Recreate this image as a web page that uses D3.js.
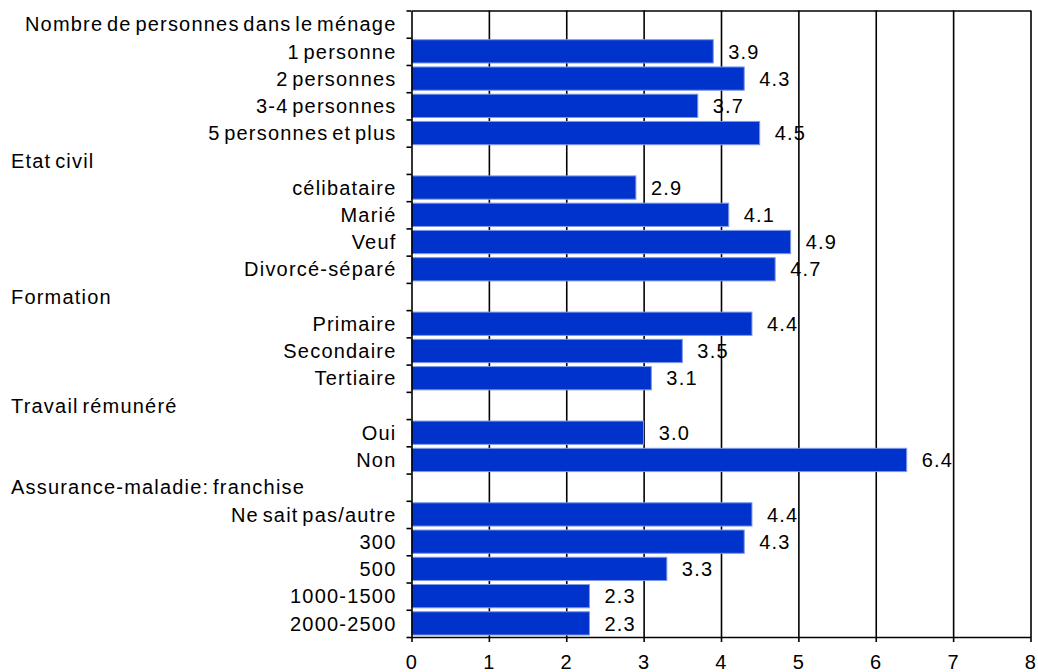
<!DOCTYPE html>
<html lang="fr">

<head>
  <meta charset="utf-8">
  <title>Franchise chart</title>
  <style>
    body {
      margin: 0;
      background: #ffffff;
    }

    #chart text {
      font-family: "Liberation Sans", Arial, sans-serif;
      font-size: 20px;
      letter-spacing: 1.2px;
      word-spacing: -3px;
      fill: #000000;
    }

    #chart .bar {
      fill: #0033cc;
      stroke: #7f99e6;
      stroke-width: 1;
    }

    #chart .axis path,
    #chart .axis line,
    #chart .grid path,
    #chart .grid line {
      stroke: #000000;
      stroke-width: 1.6;
    }
  </style>
</head>

<body>
  <div id="chart"></div>
</body>
<script src="https://d3js.org/d3.v7.min.js"></script>

<script>
  var groups = ["Nombre de personnes dans le ménage", "Etat civil", "Formation", "Travail rémunéré",
    "Assurance-maladie: franchise"];
  var categories = [
    ["1 personne", "2 personnes", "3-4 personnes", "5 personnes et plus"],
    ["célibataire", "Marié", "Veuf", "Divorcé-séparé"],
    ["Primaire", "Secondaire", "Tertiaire"],
    ["Oui", "Non"],
    ["Ne sait pas/autre", "300", "500", "1000-1500", "2000-2500"]
  ];
  var values = [
    [3.9, 4.3, 3.7, 4.5],
    [2.9, 4.1, 4.9, 4.7],
    [4.4, 3.5, 3.1],
    [3.0, 6.4],
    [4.4, 4.3, 3.3, 2.3, 2.3]
  ];
  var xTicks = [0, 1, 2, 3, 4, 5, 6, 7, 8];

  // one row per header, one row per bar
  var rows = [];
  groups.forEach(function (g, gi) {
    rows.push({ label: g, header: true, first: gi === 0 });
    categories[gi].forEach(function (c, ci) {
      rows.push({ label: c, value: values[gi][ci] });
    });
  });
  rows.forEach(function (d, i) { d.id = i; });

  var margin = { top: 10.5, left: 411.5, right: 7.5, bottom: 35 },
    W = 1038, H = 672,
    width = W - margin.left - margin.right,
    height = H - margin.top - margin.bottom;

  var svg = d3.select("#chart")
    .append("svg")
    .attr("width", W)
    .attr("height", H)
    .append("g")
    .attr("transform", "translate(" + margin.left + "," + margin.top + ")");

  var x = d3.scaleLinear()
    .domain([0, 8])
    .range([0, width]);

  var y = d3.scaleBand()
    .domain(rows.map(function (d) { return d.id; }))
    .range([0, height])
    .paddingInner(0.145)
    .paddingOuter(0.0725);

  var rowEdge = d3.scaleLinear()
    .domain([0, rows.length])
    .range([0, height]);

  // vertical grid + top frame
  svg.append("g")
    .attr("class", "grid")
    .call(d3.axisTop(x).tickValues(xTicks.slice(1)).tickSize(-height).tickSizeOuter(0).tickFormat(""));

  var bars = rows.filter(function (d) { return !d.header; });

  svg.selectAll(".bar")
    .data(bars)
    .enter()
    .append("rect")
    .attr("class", "bar")
    .attr("x", 0)
    .attr("y", function (d) { return y(d.id); })
    .attr("width", function (d) { return x(d.value); })
    .attr("height", y.bandwidth());

  svg.selectAll(".val")
    .data(bars)
    .enter()
    .append("text")
    .attr("class", "val")
    .attr("x", function (d) { return x(d.value) + 15; })
    .attr("y", function (d) { return y(d.id) + y.bandwidth() / 2; })
    .attr("dy", "0.36em")
    .text(function (d) { return d.value.toFixed(1); });

  // left axis with ticks between rows
  svg.append("g")
    .attr("class", "axis")
    .call(d3.axisLeft(rowEdge).tickValues(d3.range(rows.length + 1)).tickSize(5).tickSizeOuter(0).tickFormat(""));

  svg.append("g")
    .attr("class", "axis")
    .attr("transform", "translate(0," + height + ")")
    .call(d3.axisBottom(x).tickValues(xTicks).tickSize(5).tickPadding(12.5).tickSizeOuter(0))
    .call(function (g) { g.selectAll("text").attr("font-size", null).attr("font-family", null); });

  svg.selectAll(".rowlab")
    .data(rows)
    .enter()
    .append("text")
    .attr("class", "rowlab")
    .attr("x", function (d) { return d.header && !d.first ? 11 - margin.left : -15; })
    .attr("y", function (d) { return y(d.id) + y.bandwidth() / 2; })
    .attr("dy", "0.36em")
    .attr("text-anchor", function (d) { return d.header && !d.first ? "start" : "end"; })
    .text(function (d) { return d.label; });
</script>

</html>
